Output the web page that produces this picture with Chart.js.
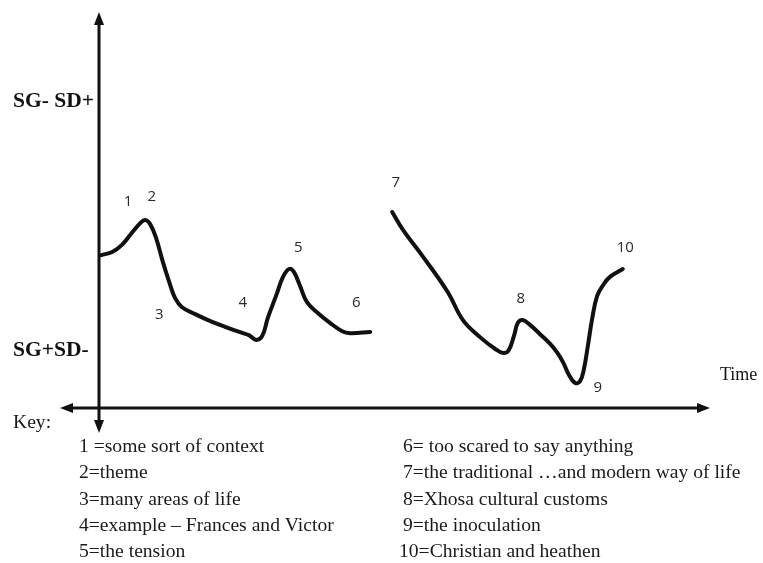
<!DOCTYPE html>
<html>
<head>
<meta charset="utf-8">
<script src="https://cdn.jsdelivr.net/npm/chart.js@4/dist/chart.umd.min.js"></script>
<style>
html,body{margin:0;padding:0;background:#fff;}
canvas{display:block;}
</style>
</head>
<body>
<canvas id="c" width="763" height="563"></canvas>
<script>
// Time (0-100) and level (0 = SG+SD- side, 100 = SG- SD+ side)
const phase1Time  = [0.2,2.0,3.6,5.2,6.6,7.4,8.2,9.2,10.3,11.5,12.3,13.4,15.6,18.0,20.5,23.4,24.4,25.6,26.6,27.5,28.9,30.0,31.0,31.8,32.8,33.9,35.7,37.7,39.7,41.0,44.3];
const phase1Level = [38.6,39.4,41.2,44.2,46.7,47.5,46.5,42.9,36.9,31.1,27.8,25.5,23.7,22.0,20.5,18.9,18.4,17.2,18.2,22.7,28.5,33.1,35.1,34.3,30.8,26.8,24.0,21.5,19.4,18.9,19.2];
const phase2Time  = [47.9,49.7,53.0,57.0,59.5,62.3,64.8,66.1,67.0,67.9,68.5,69.3,70.5,72.1,73.8,74.9,75.9,76.9,77.9,78.7,79.3,80.0,80.7,81.5,82.5,83.6,85.7];
const phase2Level = [49.5,44.9,38.1,29.3,22.2,17.9,14.9,13.9,14.6,18.4,21.5,22.2,21.0,18.7,16.2,14.1,11.6,8.3,6.3,6.8,9.6,15.9,22.7,28.3,31.1,33.1,35.1];

// point markers 1..10 (label, time, level)
const markerNames = ["1","2","3","4","5","6","7","8","9","10"];
const markerTime  = [4.6,8.5,9.7,23.4,32.5,42.0,48.5,69.0,81.6,86.1];
const markerLevel = [52.0,53.3,23.5,26.5,40.4,26.5,56.8,27.5,5.1,40.4];

// y-axis category labels and their levels
const yLabels = ["SG- SD+","SG+SD-"];
const yLabelLevels = [77.3,14.6];

const xAxisTitle = "Time";
const keyTitle = "Key:";
const keyLeft = ["1 =some sort of context","2=theme","3=many areas of life","4=example \u2013 Frances and Victor","5=the tension"];
const keyRight = ["6= too scared to say anything","7=the traditional \u2026and modern way of life","8=Xhosa cultural customs","9=the inoculation","10=Christian and heathen"];

const toXY = (xs, ys) => xs.map((x, i) => ({x: x, y: ys[i]}));

const decor = {
  id: 'decor',
  beforeDraw(chart) {
    const ctx = chart.ctx;
    ctx.save();
    ctx.fillStyle = '#fff';
    ctx.fillRect(0, 0, chart.width, chart.height);
    ctx.restore();
  },
  afterDatasetsDraw(chart) {
    const ctx = chart.ctx;
    const a = chart.chartArea;
    const xs = chart.scales.x, ys = chart.scales.y;
    ctx.save();
    ctx.strokeStyle = '#111';
    ctx.fillStyle = '#111';
    ctx.lineWidth = 3;
    // vertical axis
    const vx = a.left - 1;
    ctx.beginPath();
    ctx.moveTo(vx, a.top + 8);
    ctx.lineTo(vx, a.bottom + 16);
    ctx.stroke();
    // up arrow
    ctx.beginPath();
    ctx.moveTo(vx, a.top);
    ctx.lineTo(vx - 5, a.top + 13);
    ctx.lineTo(vx + 5, a.top + 13);
    ctx.closePath(); ctx.fill();
    // down arrow
    ctx.beginPath();
    ctx.moveTo(vx, a.bottom + 25);
    ctx.lineTo(vx - 5, a.bottom + 12);
    ctx.lineTo(vx + 5, a.bottom + 12);
    ctx.closePath(); ctx.fill();
    // horizontal axis
    const hy = a.bottom;
    ctx.beginPath();
    ctx.moveTo(a.left - 30, hy);
    ctx.lineTo(a.right - 8, hy);
    ctx.stroke();
    ctx.beginPath();
    ctx.moveTo(a.left - 40, hy);
    ctx.lineTo(a.left - 27, hy - 5);
    ctx.lineTo(a.left - 27, hy + 5);
    ctx.closePath(); ctx.fill();
    ctx.beginPath();
    ctx.moveTo(a.right, hy);
    ctx.lineTo(a.right - 13, hy - 5);
    ctx.lineTo(a.right - 13, hy + 5);
    ctx.closePath(); ctx.fill();

    // marker numbers
    ctx.fillStyle = '#2a2a2a';
    ctx.font = '15px "Open Sans", sans-serif';
    ctx.textAlign = 'center';
    ctx.textBaseline = 'middle';
    markerNames.forEach((n, i) => {
      ctx.fillText(n, xs.getPixelForValue(markerTime[i]), ys.getPixelForValue(markerLevel[i]));
    });

    // y labels
    ctx.fillStyle = '#111';
    ctx.font = 'bold 21.5px "Liberation Serif", "Times New Roman", serif';
    ctx.textAlign = 'left';
    yLabels.forEach((t, i) => {
      ctx.fillText(t, 13, ys.getPixelForValue(yLabelLevels[i]));
    });

    // Time label
    ctx.font = '18px "Liberation Serif", "Times New Roman", serif';
    ctx.fillText(xAxisTitle, a.right + 10, ys.getPixelForValue(8.3));

    // key
    ctx.fillStyle = '#1a1a1a';
    ctx.font = '19.6px "Liberation Serif", "Times New Roman", serif';
    ctx.fillText(keyTitle, 13, a.bottom + 15);
    keyLeft.forEach((t, i) => ctx.fillText(t, 79, a.bottom + 39 + i * 26.3));
    keyRight.forEach((t, i) => ctx.fillText(t, i === 4 ? 399 : 403, a.bottom + 39 + i * 26.3));
    ctx.restore();
  }
};

new Chart(document.getElementById('c'), {
  type: 'line',
  data: {
    datasets: [
      {data: toXY(phase1Time, phase1Level)},
      {data: toXY(phase2Time, phase2Level)}
    ]
  },
  options: {
    responsive: false,
    animation: false,
    parsing: true,
    layout: {padding: {left: 100, right: 53, top: 12, bottom: 155}},
    elements: {
      line: {borderColor: '#111', borderWidth: 4, tension: 0.4, borderCapStyle: 'round', borderJoinStyle: 'round', fill: false},
      point: {radius: 0, hoverRadius: 0}
    },
    scales: {
      x: {type: 'linear', min: 0, max: 100, display: false},
      y: {type: 'linear', min: 0, max: 100, display: false}
    },
    plugins: {legend: {display: false}, tooltip: {enabled: false}}
  },
  plugins: [decor]
});
</script>
</body>
</html>
